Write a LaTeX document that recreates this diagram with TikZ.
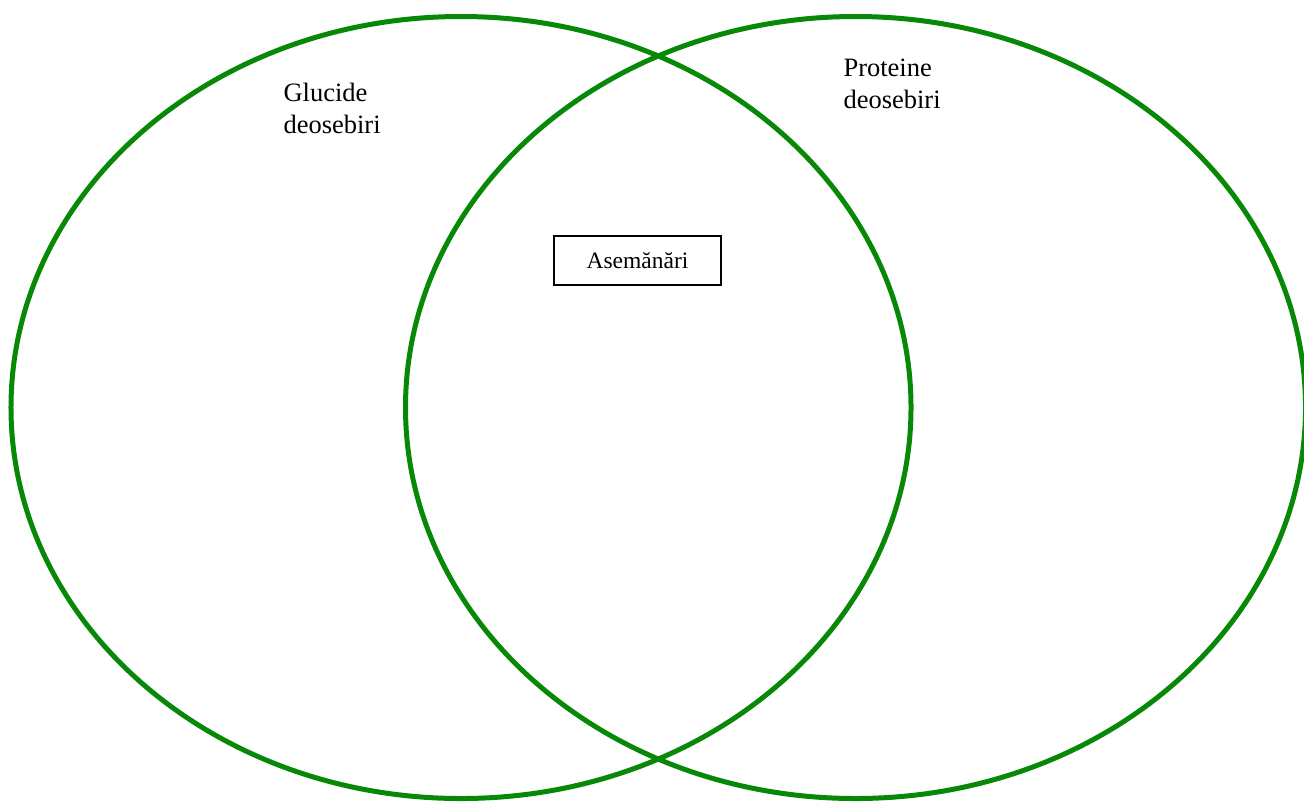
\documentclass[tikz,border=0pt]{standalone}
\usepackage{fontspec}
\setmainfont{Liberation Serif}
\usepackage{tikz}
\usetikzlibrary{shapes.geometric}
\definecolor{ringgreen}{HTML}{078807}

\begin{document}
\begin{tikzpicture}[x=0.4pt, y=-0.4pt,
  ring/.style={draw=ringgreen, line width=2pt, ellipse, minimum width=360pt, minimum height=312.8pt, inner sep=0pt},
  tag/.style={anchor=north west, inner sep=0pt, align=left, font=\fontsize{10.6}{12.8}\selectfont},
  simbox/.style={draw, line width=0.5pt, minimum width=66.8pt, minimum height=19.6pt, inner sep=0pt, font=\fontsize{9.4}{11}\selectfont}
]
  \useasboundingbox (0,0) rectangle (1304,801);
  \clip (0,0) rectangle (1304,801);

  \node[ring] (glucide) at (461,407.5) {};
  \node[ring] (proteine) at (855.5,407.5) {};

  \node[tag] (gtext) at (283,83) {Glucide\\deosebiri};
  \node[tag] (ptext) at (843,58) {Proteine\\deosebiri};
  \node[simbox] (common) at (637.5,260.5) {Asemănări};
\end{tikzpicture}
\end{document}
